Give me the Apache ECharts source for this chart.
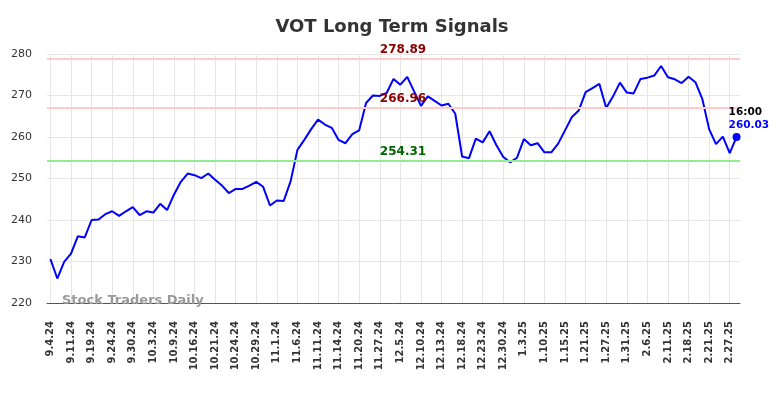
<!DOCTYPE html>
<html>
<head>
<meta charset="utf-8">
<title>VOT Long Term Signals</title>
<script src="https://cdn.jsdelivr.net/npm/echarts@6/dist/echarts.min.js"></script>
<style>
html, body { margin: 0; padding: 0; background: #fff; }
#chart { width: 784px; height: 398px; }
</style>
</head>
<body>
<div id="chart"></div>
<script>
// one label every 3 points
var tickLabels = ['9.4.24', '9.11.24', '9.19.24', '9.24.24', '9.30.24', '10.3.24', '10.9.24', '10.16.24',
	'10.21.24', '10.24.24', '10.29.24', '11.1.24', '11.6.24', '11.11.24', '11.14.24', '11.20.24', '11.27.24',
	'12.5.24', '12.10.24', '12.13.24', '12.18.24', '12.23.24', '12.30.24', '1.3.25', '1.10.25', '1.15.25',
	'1.21.25', '1.27.25', '1.31.25', '2.6.25', '2.11.25', '2.18.25', '2.21.25', '2.27.25'];
var prices = [230.6, 225.9, 229.9, 231.9, 236.1, 235.8, 240.0, 240.1, 241.4, 242.1,
	241.0, 242.1, 243.1, 241.2, 242.1, 241.8, 243.9, 242.4, 246.1, 249.2,
	251.2, 250.8, 250.1, 251.2, 249.7, 248.3, 246.5, 247.5, 247.5, 248.3,
	249.2, 248.0, 243.5, 244.7, 244.6, 249.3, 256.9, 259.3, 261.9, 264.2,
	263.0, 262.2, 259.3, 258.5, 260.7, 261.6, 268.2, 270.0, 269.9, 270.6,
	274.0, 272.6, 274.5, 271.0, 267.5, 269.8, 268.7, 267.6, 268.0, 265.6,
	255.3, 254.9, 259.6, 258.7, 261.4, 258.0, 255.2, 253.9, 255.0, 259.5,
	258.0, 258.5, 256.3, 256.3, 258.4, 261.6, 264.8, 266.4, 270.8, 271.8,
	272.8, 267.0, 269.8, 273.1, 270.7, 270.5, 274.0, 274.3, 274.8, 277.1,
	274.4, 273.9, 273.0, 274.5, 273.2, 269.2, 261.9, 258.3, 260.1, 256.1,
	260.03];
var upperLevel = 278.89;
var middleLevel = 266.96;
var lowerLevel = 254.31;
var lastTime = '16:00';
var yTicks = [220, 230, 240, 250, 260, 270, 280];

var categories = [];
for (var i = 0; i < prices.length; i++) {
	categories.push(i % 3 === 0 ? tickLabels[i / 3] : '');
}
var lastIdx = prices.length - 1;

function everyThird(idx) {
	return idx % 3 === 0;
}

var myChart = echarts.init(document.getElementById('chart'));
var option = {
	animation: false,
	textStyle: { fontFamily: 'DejaVu Sans' },
	title: {
		text: 'VOT Long Term Signals',
		left: 'center',
		top: 13,
		textStyle: { fontSize: 18, fontWeight: 'bold', color: '#333' }
	},
	grid: { left: 47, right: 44, top: 54, bottom: 95 },
	graphic: [{
		type: 'text',
		left: 62,
		top: 294,
		z: 10,
		style: {
			text: 'Stock Traders Daily',
			fill: '#999',
			fontSize: 13,
			fontWeight: 'bold',
			fontFamily: 'DejaVu Sans'
		}
	}],
	xAxis: {
		type: 'category',
		data: categories,
		boundaryGap: true,
		axisLine: { lineStyle: { color: '#555', width: 1 } },
		axisTick: { show: false },
		axisLabel: {
			interval: function(idx) { return everyThird(idx); },
			rotate: 90,
			margin: 18,
			fontSize: 10,
			fontWeight: 'bold',
			color: '#333'
		},
		splitLine: {
			show: true,
			alignWithLabel: true,
			interval: function(idx) { return everyThird(idx); },
			lineStyle: { color: '#e6e6e6', width: 1 }
		}
	},
	yAxis: {
		type: 'value',
		min: yTicks[0],
		max: yTicks[yTicks.length - 1],
		interval: 10,
		axisLine: { show: false },
		axisTick: { show: false },
		axisLabel: { fontSize: 11, color: '#333', margin: 15 },
		splitLine: { lineStyle: { color: '#e6e6e6', width: 1 } }
	},
	series: [{
		type: 'line',
		data: prices,
		showSymbol: false,
		lineStyle: { color: '#0000ff', width: 2 },
		itemStyle: { color: '#0000ff' },
		markLine: {
			silent: true,
			symbol: 'none',
			label: {
				position: 'insideMiddleTop',
				distance: 3,
				fontSize: 12,
				fontWeight: 'bold',
				padding: [0, 0, 0, 19],
				formatter: function(p) { return p.value.toFixed(2); }
			},
			data: [
				{ yAxis: upperLevel, lineStyle: { color: '#ffcccc', width: 2, type: 'solid' }, label: { color: '#8b0000' } },
				{ yAxis: middleLevel, lineStyle: { color: '#ffcccc', width: 2, type: 'solid' }, label: { color: '#8b0000' } },
				{ yAxis: lowerLevel, lineStyle: { color: '#90ee90', width: 2, type: 'solid' }, label: { color: '#006400' } }
			]
		},
		markPoint: {
			silent: true,
			symbol: 'circle',
			symbolSize: 8,
			itemStyle: { color: '#0000ff' },
			label: {
				show: true,
				position: [-4, -27],
				formatter: '{t|' + lastTime + '}\n{v|' + prices[lastIdx].toFixed(2) + '}',
				rich: {
					t: { color: '#000', fontSize: 10.5, fontWeight: 'bold', lineHeight: 13, fontFamily: 'DejaVu Sans' },
					v: { color: '#0000ff', fontSize: 10.5, fontWeight: 'bold', lineHeight: 13, fontFamily: 'DejaVu Sans' }
				}
			},
			data: [{ coord: [lastIdx, prices[lastIdx]] }]
		}
	}]
};
myChart.setOption(option);
window.onresize = myChart.resize;
</script>
</body>
</html>
